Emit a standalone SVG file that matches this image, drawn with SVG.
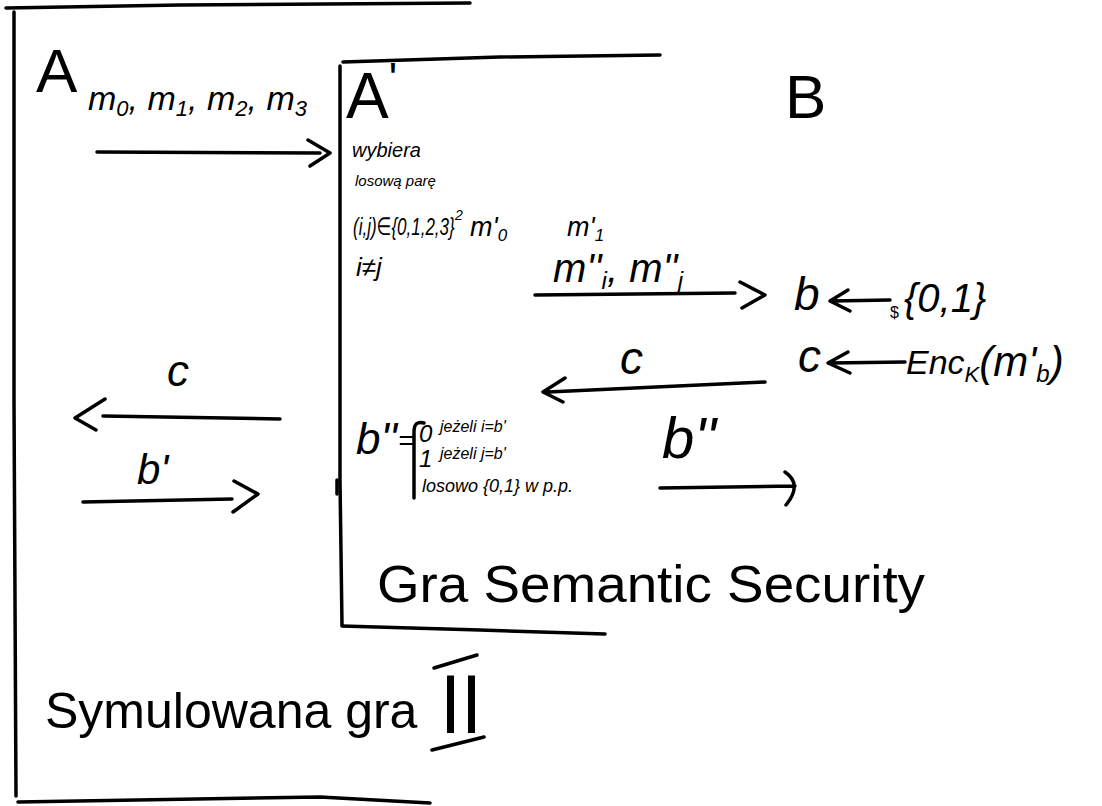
<svg xmlns="http://www.w3.org/2000/svg" width="1102" height="806" viewBox="0 0 1102 806">
<style>
  .ln{fill:none;stroke:#000;stroke-width:3.5;stroke-linecap:round;stroke-linejoin:round}
  text{font-family:"Liberation Sans","DejaVu Sans",sans-serif;fill:#000}
  .it{font-style:italic}
</style>
<rect x="0" y="0" width="1102" height="806" fill="#fff"/>
<g id="simulated-game">
  <path class="ln" d="M6 8 L180 5 L470 3"/>
  <path class="ln" d="M14 12 L14 400 L16 796"/>
  <path class="ln" d="M18 802 L320 797 L430 803"/>
  <text x="45" y="728" font-size="50">Symulowana gra</text>
  <text x="440" y="733" font-size="84" textLength="42" lengthAdjust="spacingAndGlyphs">II</text>
  <path class="ln" d="M434 668 L477 655"/>
  <path class="ln" d="M432 750 L484 737"/>
</g>
<g id="adversary-A">
  <text x="36" y="92" font-size="62">A</text>
  <text x="88" y="110" font-size="34" class="it">m<tspan font-size="22" dy="6">0</tspan><tspan dy="-6">, m</tspan><tspan font-size="22" dy="6">1</tspan><tspan dy="-6">, m</tspan><tspan font-size="22" dy="6">2</tspan><tspan dy="-6">, m</tspan><tspan font-size="22" dy="6">3</tspan></text>
</g>
<g id="adversary-A-prime">
  <path class="ln" d="M343 62 L500 57 L660 55"/>
  <path class="ln" d="M340 66 L340 480 L342 625"/>
  <path class="ln" d="M337 480 L337 494" stroke-width="6"/>
  <path class="ln" d="M342 626 L480 630 L605 634"/>
  <text x="346" y="118" font-size="64">A<tspan font-size="44" dy="-24">'</tspan></text>
  <text x="352" y="157" font-size="20" class="it">wybiera</text>
  <text x="355" y="186" font-size="15" class="it">losową parę</text>
  <text transform="translate(353,235) scale(1,1.45)" font-size="17" class="it">(i,j)∈{0,1,2,3}</text>
  <text x="455" y="220" font-size="14" class="it">2</text>
  <text x="470" y="236" font-size="27" class="it">m'<tspan font-size="17" dy="5">0</tspan></text>
  <text x="567" y="236" font-size="27" class="it">m'<tspan font-size="17" dy="5">1</tspan></text>
  <text x="356" y="276" font-size="26" class="it">i≠j</text>
  <text x="356" y="454" font-size="44" class="it">b''</text>
  <text x="398" y="450" font-size="28" class="it">=</text>
  <path class="ln" d="M424 423 Q414 420 414 432 L414 498" stroke-width="3"/>
  <text x="419" y="442" font-size="24" class="it">0</text>
  <text x="440" y="432" font-size="16" class="it">jeżeli i=b'</text>
  <text x="419" y="467" font-size="24" class="it">1</text>
  <text x="440" y="459" font-size="16" class="it">jeżeli j=b'</text>
  <text x="422" y="492" font-size="18" class="it">losowo {0,1} w p.p.</text>
  <text x="377" y="602" font-size="52" textLength="548" lengthAdjust="spacingAndGlyphs">Gra Semantic Security</text>
</g>
<g id="challenger-B">
  <text x="785" y="118" font-size="62">B</text>
  <text x="794" y="310" font-size="46" class="it">b</text>
  <path class="ln" d="M890 300 L832 301 M848 290 L830 301 L850 311"/>
  <text x="890" y="318" font-size="16">$</text>
  <text x="904" y="312" font-size="40" class="it">{0,1}</text>
  <text x="798" y="372" font-size="46" class="it">c</text>
  <path class="ln" d="M905 362 L830 363 M848 352 L828 363 L850 373"/>
  <text x="906" y="374" font-size="34" class="it">Enc<tspan font-size="22" dy="8">K</tspan><tspan font-size="42" dy="-6">(m'</tspan><tspan font-size="24" dy="6">b</tspan><tspan font-size="42" dy="-6">)</tspan></text>
</g>
<g id="connectors">
  <path class="ln" d="M97 152 L320 153 M308 140 L330 153 L310 166"/>
  <path class="ln" d="M535 295 L735 293 M740 282 L765 295 L742 308"/>
  <path class="ln" d="M765 382 L548 392 M565 378 L543 392 L563 402"/>
  <path class="ln" d="M280 419 L103 416 M105 399 L75 418 L96 430"/>
  <path class="ln" d="M83 502 L232 499 M234 481 L258 494 L233 512"/>
  <path class="ln" d="M660 488 L795 486 M785 472 Q803 484 786 505"/>
  <text x="553" y="282" font-size="40" class="it">m''<tspan font-size="24" dy="7">i</tspan><tspan dy="-7">, m''</tspan><tspan font-size="24" dy="7">j</tspan></text>
  <text x="620" y="374" font-size="46" class="it">c</text>
  <text x="167" y="386" font-size="44" class="it">c</text>
  <text x="137" y="484" font-size="42" class="it">b'</text>
  <text x="662" y="458" font-size="58" class="it">b''</text>
</g>
</svg>
